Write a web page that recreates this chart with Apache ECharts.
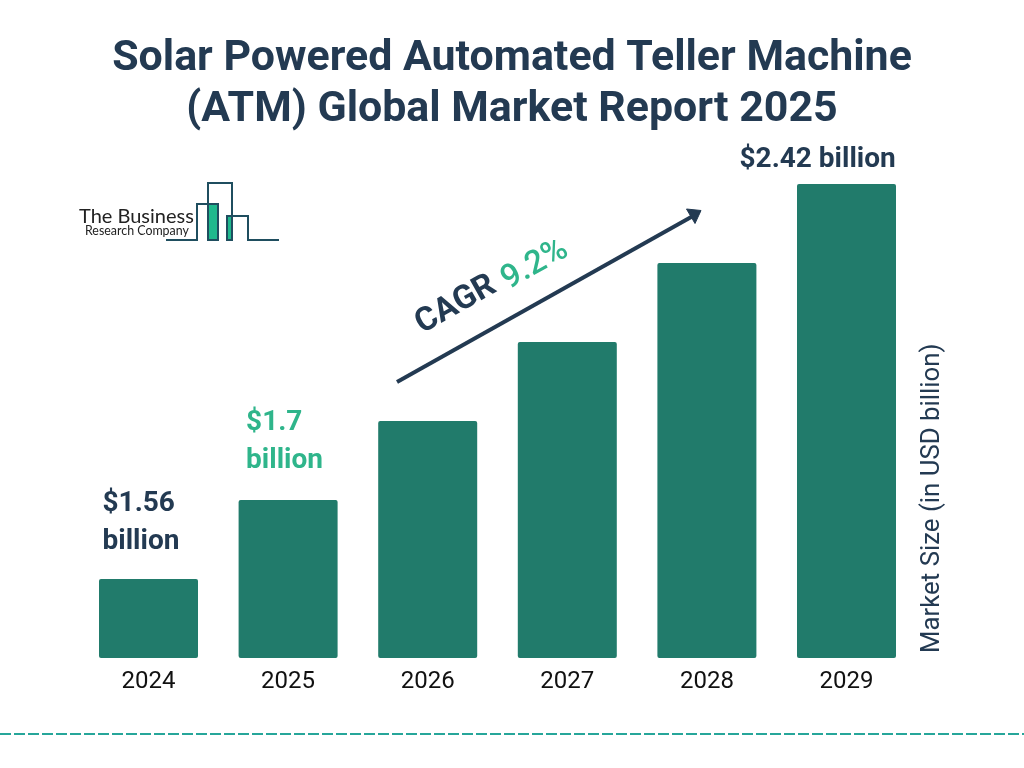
<!DOCTYPE html>
<html lang="en">
<head>
    <meta charset="UTF-8">
    <title>Solar Powered Automated Teller Machine (ATM) Global Market Report 2025</title>
    <script src="https://cdn.jsdelivr.net/npm/echarts@6/dist/echarts.min.js"></script>
    <style>
        body { margin: 0; padding: 0; background-color: #fff; }
        #chart { width: 1024px; height: 768px; }
    </style>
</head>
<body>

<div id="chart"></div>

<script>
// values
const years = ['2024', '2025', '2026', '2027', '2028', '2029'];
// the bars climb in equal steps in the picture, not in proportion to the printed figures
const barHeights = [1, 2, 3, 4, 5, 6];
const valueLabels = ['$1.56\nbillion', '$1.7\nbillion', '', '', '', '$2.42 billion'];
const labelColors = ['#233a52', '#2fb58b', '#233a52', '#233a52', '#233a52', '#233a52'];
const labelOffsets = [[-46, -13], [-42, -15], [0, 0], [0, 0], [0, 0], [-107, 0]];

const NAVY = '#233a52';
const FONT = 'Roboto';

const chart = echarts.init(document.getElementById('chart'));

chart.setOption({
    animation: false,
    backgroundColor: '#fff',
    title: {
        text: 'Solar Powered Automated Teller Machine\n(ATM) Global Market Report 2025',
        left: 507,
        top: 29,
        textAlign: 'center',
        textStyle: {
            fontFamily: FONT,
            fontSize: 42.9,
            fontWeight: 700,
            color: NAVY,
            lineHeight: 51
        }
    },
    grid: { left: 78.7, right: 107.7, top: 184, bottom: 110 },
    xAxis: {
        type: 'category',
        data: years,
        axisLine: { show: false },
        axisTick: { show: false },
        axisLabel: { fontFamily: FONT, fontSize: 24, color: '#111', margin: 12 }
    },
    yAxis: {
        type: 'value',
        position: 'right',
        offset: 16,
        min: 0,
        max: 6,
        splitLine: { show: false },
        axisLine: { show: false },
        axisTick: { show: false },
        axisLabel: { show: false },
        name: 'Market Size (in USD billion)',
        nameLocation: 'start',
        nameRotate: 90,
        nameGap: -5,
        nameTextStyle: {
            fontFamily: FONT,
            fontSize: 25.8,
            color: NAVY,
            align: 'left',
            verticalAlign: 'middle'
        }
    },
    series: [{
        type: 'bar',
        barWidth: 99,
        itemStyle: { color: '#217b6b', borderRadius: 2 },
        data: barHeights.map((value, i) => ({
            value,
            label: {
                show: valueLabels[i] !== '',
                position: 'top',
                align: 'left',
                verticalAlign: 'bottom',
                formatter: valueLabels[i],
                offset: labelOffsets[i],
                color: labelColors[i],
                fontFamily: FONT,
                fontSize: 28,
                fontWeight: 700,
                lineHeight: 38
            }
        }))
    }],
    graphic: [
        // CAGR arrow
        { type: 'line', shape: { x1: 397, y1: 382, x2: 693, y2: 216 },
          style: { stroke: NAVY, lineWidth: 4 } },
        { type: 'polygon', shape: { points: [[701, 210.5], [686.5, 209], [695, 223.5]] },
          style: { fill: NAVY, stroke: NAVY, lineWidth: 1, lineJoin: 'round' } },
        { type: 'text', x: 456, y: 305, rotation: 0.515,
          style: { text: 'CAGR', fontFamily: FONT, fontSize: 33, fontWeight: 700, fill: NAVY,
                   align: 'center', verticalAlign: 'middle' } },
        { type: 'text', x: 535, y: 265, rotation: 0.515,
          style: { text: '9.2%', fontFamily: FONT, fontSize: 33, fontWeight: 500, fill: '#2fb58b',
                   align: 'center', verticalAlign: 'middle' } },

        // logo
        { type: 'rect', shape: { x: 208, y: 204, width: 10, height: 36 }, style: { fill: '#1fb98d' } },
        { type: 'rect', shape: { x: 227, y: 216, width: 5, height: 24 }, style: { fill: '#1fb98d' } },
        { type: 'polyline',
          shape: { points: [[166, 240], [197, 240], [197, 204], [218, 204], [218, 240], [208, 240],
                            [208, 183], [232, 183], [232, 240], [227, 240], [227, 216], [248, 216],
                            [248, 240], [279, 240]] },
          style: { stroke: '#1f4e5f', lineWidth: 2, fill: null } },
        { type: 'text', x: 79, y: 217,
          style: { text: 'The Business', fontFamily: 'Lato', fontSize: 20, fontWeight: 400, fill: '#222',
                   align: 'left', verticalAlign: 'middle' } },
        { type: 'text', x: 85, y: 231,
          style: { text: 'Research Company', fontFamily: 'Lato', fontSize: 12.4, fontWeight: 400, fill: '#222',
                   align: 'left', verticalAlign: 'middle' } },

        // dashed rule along the bottom
        { type: 'line', shape: { x1: 0, y1: 734, x2: 1024, y2: 734 },
          style: { stroke: '#26a69a', lineWidth: 2, lineDash: [11, 3] } }
    ]
});
</script>

</body>
</html>
